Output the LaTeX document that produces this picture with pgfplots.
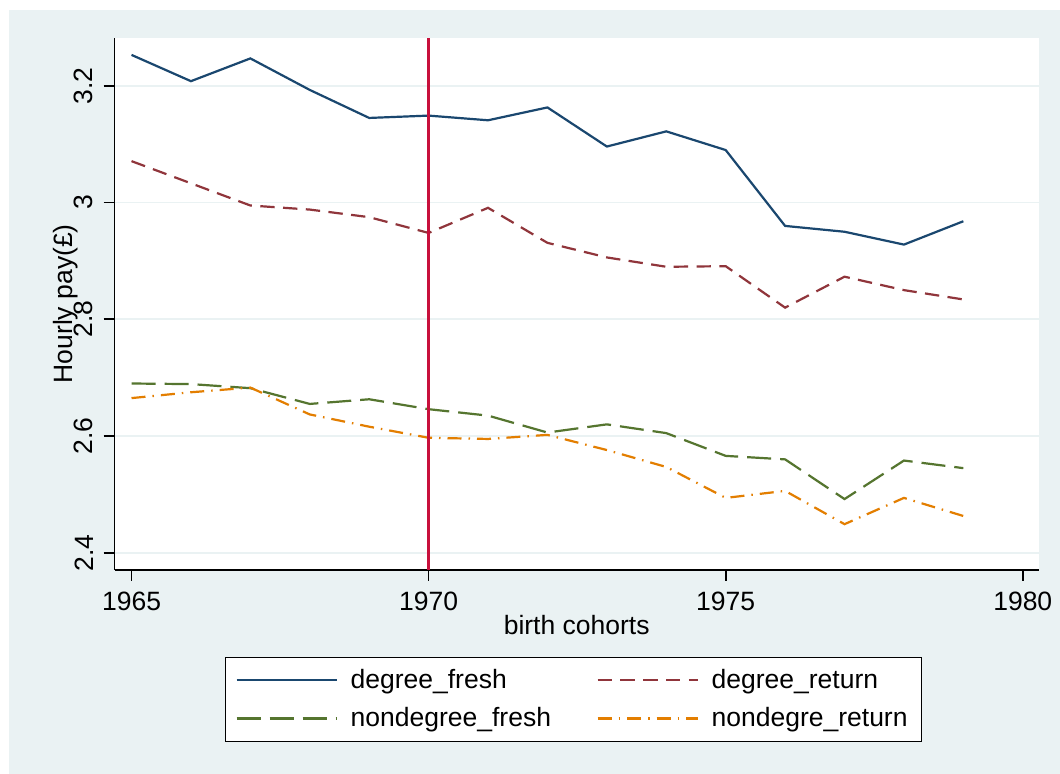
\documentclass[border=0pt]{standalone}
\usepackage{fontspec}
\setmainfont{Liberation Sans}
\usepackage{pgfplots}
\pgfplotsset{compat=1.18}
\definecolor{bg}{HTML}{EAF2F3}
\definecolor{cnavy}{HTML}{1A476F}
\definecolor{cmaroon}{HTML}{90353B}
\definecolor{cgreen}{HTML}{55752F}
\definecolor{corange}{HTML}{E37E00}
\definecolor{cred}{HTML}{C8103C}
\newcommand{\f}{\fontsize{13.25}{15.9}\selectfont}

\pgfplotstableread{
year  dfresh dreturn nfresh nreturn
1965  3.253  3.071   2.690  2.665
1966  3.208  3.033   2.689  2.675
1967  3.247  2.995   2.682  2.683
1968  3.193  2.988   2.655  2.637
1969  3.145  2.975   2.663  2.616
1970  3.149  2.948   2.646  2.597
1971  3.141  2.991   2.635  2.595
1972  3.163  2.931   2.606  2.602
1973  3.096  2.906   2.620  2.576
1974  3.122  2.890   2.605  2.547
1975  3.090  2.891   2.566  2.494
1976  2.960  2.820   2.560  2.506
1977  2.950  2.873   2.492  2.449
1978  2.928  2.850   2.558  2.494
1979  2.968  2.834   2.545  2.463
}\pay

\begin{document}
\begin{tikzpicture}
\useasboundingbox (0pt,0pt) rectangle (530pt,387pt);
\fill[white] (0pt,0pt) rectangle (530pt,387pt);
\fill[bg] (4.5pt,0pt) rectangle (530pt,382pt);
\begin{axis}[
    at={(57.3pt,102.15pt)}, anchor=south west,
    scale only axis, width=462.1pt, height=265.85pt,
    xmin=1964.715, xmax=1980.27,
    ymin=2.371, ymax=3.282,
    axis background/.style={fill=white},
    axis x line*=bottom, axis y line*=left,
    axis line style={black, line width=0.85pt, -},
    xtick={1965,1970,1975,1980},
    ytick={2.4,2.6,2.8,3,3.2},
    xtick pos=bottom, ytick pos=left,
    tick align=outside, major tick length=5.5pt,
    tick style={black, line width=0.85pt},
    ymajorgrids, grid style={bg, line width=0.85pt},
    /pgf/number format/assume math mode=true,
    /pgf/number format/1000 sep={},
    ticklabel style={font=\f, inner sep=0pt},
    xticklabel style={anchor=north},
    yticklabel style={rotate=90, anchor=south},
    xticklabel shift=5.35pt,
    yticklabel shift=5pt,
    xlabel={birth cohorts},
    ylabel={Hourly pay(£)},
    label style={font=\f, inner sep=0pt},
    xlabel style={at={(axis description cs:0.5,-0.1228)}, anchor=base},
    ylabel style={at={(axis description cs:-0.046,0.5)}, anchor=base},
    legend columns=2,
    legend cell align=left,
    legend image code/.code={\draw[#1] (0pt,0pt) -- (50pt,0pt);},
    legend style={at={(0.1195,-0.1636)}, anchor=north west,
        draw=black, line width=0.5pt, fill=white, font=\f,
        inner xsep=5pt, inner ysep=4pt,
        column sep=4.45pt, row sep=4pt,
        /tikz/every even column/.append style={column sep=20.75pt}},
]
\addplot[cnavy, line width=1.1pt] table[x=year, y=dfresh] {\pay};
\addlegendentry{degree\_fresh}
\addplot[cmaroon, line width=1.1pt, dash pattern=on 7.2pt off 4.2pt] table[x=year, y=dreturn] {\pay};
\addlegendentry{degree\_return}
\addplot[cgreen, line width=1.1pt, dash pattern=on 12pt off 4.5pt] table[x=year, y=nfresh] {\pay};
\addlegendentry{nondegree\_fresh}
\addplot[corange, line width=1.1pt, dash pattern=on 7pt off 3.5pt on 0.75pt off 3.5pt] table[x=year, y=nreturn] {\pay};
\addlegendentry{nondegre\_return}
\addplot[cred, line width=1.15pt, forget plot] coordinates {(1970,2.371) (1970,3.282)};
\end{axis}
\end{tikzpicture}
\end{document}
